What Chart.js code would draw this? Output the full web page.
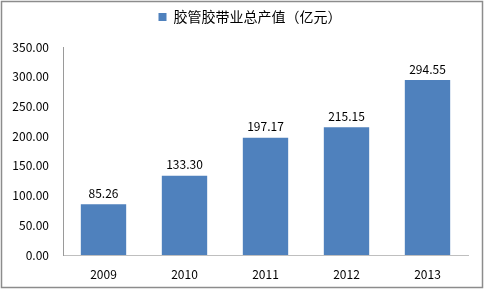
<!DOCTYPE html>
<html>
<head>
<meta charset="utf-8">
<script src="https://cdn.jsdelivr.net/npm/chart.js@4"></script>
<style>
  html, body { margin: 0; padding: 0; background: #fff; }
  #wrap { width: 484px; height: 290px; position: relative; }
</style>
</head>
<body>
<div id="wrap"><canvas id="chart"></canvas></div>
<script>
const years = ['2009', '2010', '2011', '2012', '2013'];
const outputValues = [85.26, 133.30, 197.17, 215.15, 294.55];
const seriesName = '胶管胶带业总产值（亿元）';

const fontFamily = '"Noto Sans CJK SC", "DejaVu Sans", sans-serif';

// value labels above bars + outer frame + legend spacing
const extras = {
    id: 'extras',
    beforeInit(chart) {
        const origFit = chart.legend.fit;
        chart.legend.fit = function() {
            origFit.bind(chart.legend)();
            this.height += 13;
        };
    },
    afterLayout(chart) {
        // legend sits a bit right of centre in the original
        chart.legend.left += 16;
        chart.legend.right += 16;
    },
    afterDatasetsDraw(chart) {
        const ctx = chart.ctx;
        const meta = chart.getDatasetMeta(0);
        ctx.save();
        ctx.font = '12px ' + fontFamily;
        ctx.fillStyle = '#000';
        ctx.textAlign = 'center';
        ctx.textBaseline = 'bottom';
        meta.data.forEach((bar, i) => {
            ctx.fillText(outputValues[i].toFixed(2), bar.x, bar.y - 5);
        });
        ctx.restore();
    },
    afterDraw(chart) {
        const ctx = chart.ctx;
        ctx.save();
        ctx.strokeStyle = '#8c8c8c';
        ctx.lineWidth = 1.5;
        ctx.strokeRect(1.5, 1.5, 481, 286);
        ctx.restore();
    }
};

new Chart(document.getElementById('chart'), {
    type: 'bar',
    data: {
        labels: years,
        datasets: [{
            label: seriesName,
            data: outputValues,
            backgroundColor: '#4F81BD',
            categoryPercentage: 1,
            barPercentage: 0.56
        }]
    },
    options: {
        responsive: true,
        maintainAspectRatio: false,
        animation: false,
        layout: { padding: { left: 0, right: 16, top: 1, bottom: 0 } },
        plugins: {
            legend: {
                position: 'top',
                labels: {
                    boxWidth: 8,
                    boxHeight: 8,
                    padding: 9,
                    color: '#000',
                    font: { size: 14, family: fontFamily }
                }
            },
            tooltip: { enabled: false }
        },
        scales: {
            x: {
                grid: { display: false },
                border: { display: true, color: '#bfbfbf' },
                ticks: { color: '#000', padding: 4, font: { size: 12, family: fontFamily } },
                afterFit: s => { s.height = 35; }
            },
            y: {
                min: 0,
                max: 350,
                grid: { display: false },
                border: { display: true, color: '#9a9a9a' },
                ticks: {
                    stepSize: 50,
                    color: '#000',
                    padding: 6,
                    font: { size: 12, family: fontFamily },
                    callback: v => v.toFixed(2)
                },
                afterFit: s => { s.width = 63; }
            }
        }
    },
    plugins: [extras]
});
</script>
</body>
</html>
